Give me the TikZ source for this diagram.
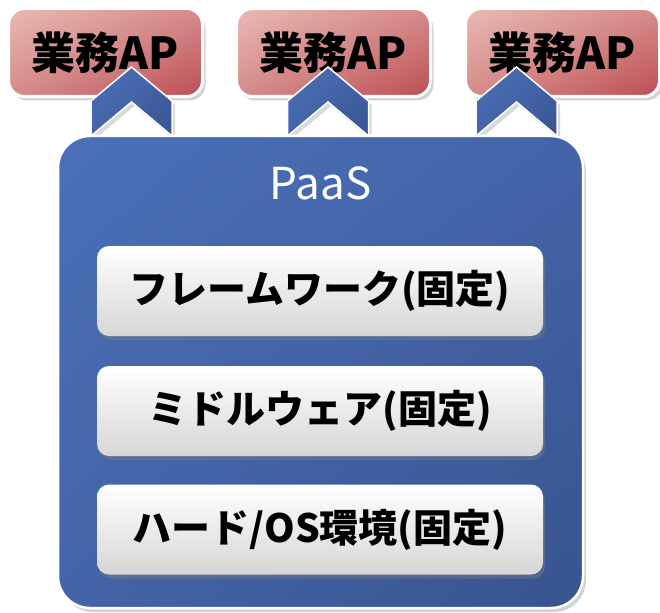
\documentclass[tikz,border=0pt]{standalone}
\usepackage{fontspec}
\newfontfamily\jp{Noto Sans CJK JP}
\usetikzlibrary{shadows,shadings}
\definecolor{redL}{HTML}{E9BAB4}
\definecolor{redM}{HTML}{D48C8A}
\definecolor{redD}{HTML}{BE4D55}
\definecolor{blueL}{HTML}{4A70B8}
\definecolor{blueM}{HTML}{4464A8}
\definecolor{blueD}{HTML}{37548E}
\definecolor{grayB}{HTML}{D6D6D6}
\tikzset{
  apbox/.style={rounded corners=16pt, draw=white, line width=3pt,
    upper left=redL, upper right=redM, lower left=redM, lower right=redD,
    minimum width=194pt, minimum height=88pt, inner sep=0pt,
    drop shadow={opacity=0.35, shadow xshift=3pt, shadow yshift=-4pt},
    font=\jp\bfseries\fontsize{44}{44}\selectfont, text=black},
  chev/.style={draw=white, line width=1.5pt,
    upper left=blueL, upper right=blueM, lower left=blueM, lower right=blueD,
    drop shadow={opacity=0.3, shadow xshift=3pt, shadow yshift=-4pt}},
  paasbox/.style={rounded corners=32pt, draw=white, line width=2.5pt,
    upper left=blueL, upper right=blueM, lower left=blueM, lower right=blueD,
    minimum width=525pt, minimum height=472pt, inner sep=0pt,
    drop shadow={opacity=0.35, shadow xshift=3pt, shadow yshift=-4pt}},
  layer/.style={rounded corners=12pt, top color=white, bottom color=grayB,
    minimum width=446pt, minimum height=90pt, inner sep=0pt,
    drop shadow={opacity=0.4, shadow xshift=2pt, shadow yshift=-4pt},
    font=\jp\bfseries\fontsize{39}{39}\selectfont, text=black},
  title/.style={font=\jp\fontsize{44}{44}\selectfont, text=white}
}
\begin{document}
\begin{tikzpicture}[x=1pt,y=-1pt]
\useasboundingbox (0,0) rectangle (660,612);
% top application boxes
\node[apbox] (ap1) at (105.5,52.5) {\raisebox{-4pt}{業務AP}};
\node[apbox] (ap2) at (333.5,52.5) {\raisebox{-4pt}{業務AP}};
\node[apbox] (ap3) at (562.5,52.5) {\raisebox{-4pt}{業務AP}};
% chevrons
\foreach \cx in {131.5,328,516.5}{
  \path[chev] (\cx-40.5,136) -- (\cx-40.5,101) -- (\cx,67) -- (\cx+40.5,101)
     -- (\cx+40.5,136) -- (\cx,102) -- cycle;
}
% PaaS box
\node[paasbox] (paas) at (320.5,372) {};
\node[title] (ptitle) at (320.5,183) {PaaS};
% layers
\node[layer] (l1) at (320,291) {フレームワーク(固定)};
\node[layer] (l2) at (320,411) {ミドルウェア(固定)};
\node[layer] (l3) at (320,529.5) {ハード/OS環境(固定)};
\end{tikzpicture}
\end{document}
